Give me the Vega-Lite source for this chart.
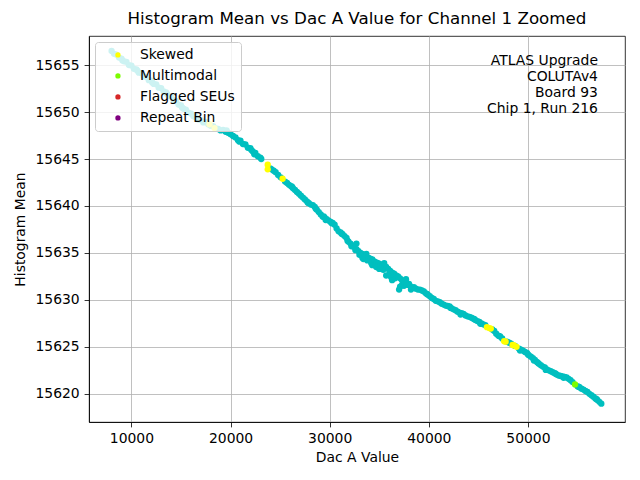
{
  "$schema": "https://vega.github.io/schema/vega-lite/v6.json",
  "width": 536,
  "height": 386,
  "autosize": {"type": "none"},
  "padding": {"left": 89, "top": 36, "right": 15, "bottom": 58},
  "background": "white",
  "title": {
    "text": "Histogram Mean vs Dac A Value for Channel 1 Zoomed",
    "fontSize": 16.7,
    "fontWeight": "normal",
    "color": "black",
    "offset": 8
  },
  "datasets": {
    "normal": [
      {"dac": 8000, "mean": 15656.5}, {"dac": 8250, "mean": 15656.2}, {"dac": 8500, "mean": 15656.1},
      {"dac": 8750, "mean": 15655.8}, {"dac": 9000, "mean": 15655.7}, {"dac": 9100, "mean": 15655.5},
      {"dac": 9250, "mean": 15655.4}, {"dac": 9500, "mean": 15655.35}, {"dac": 9750, "mean": 15655.0},
      {"dac": 10000, "mean": 15654.95}, {"dac": 10250, "mean": 15654.6}, {"dac": 10500, "mean": 15654.55},
      {"dac": 10600, "mean": 15654.4}, {"dac": 10750, "mean": 15654.2}, {"dac": 11000, "mean": 15654.15},
      {"dac": 11250, "mean": 15653.8}, {"dac": 11500, "mean": 15653.75}, {"dac": 11750, "mean": 15653.4},
      {"dac": 12000, "mean": 15653.35}, {"dac": 12100, "mean": 15653.15}, {"dac": 12250, "mean": 15653.0},
      {"dac": 12500, "mean": 15652.95}, {"dac": 12750, "mean": 15652.6}, {"dac": 13000, "mean": 15652.55},
      {"dac": 13250, "mean": 15652.2}, {"dac": 13500, "mean": 15652.1}, {"dac": 13600, "mean": 15651.9},
      {"dac": 13750, "mean": 15651.7}, {"dac": 14000, "mean": 15651.65}, {"dac": 14250, "mean": 15651.3},
      {"dac": 14500, "mean": 15651.2}, {"dac": 14750, "mean": 15650.8}, {"dac": 15000, "mean": 15650.7},
      {"dac": 15100, "mean": 15650.5}, {"dac": 15250, "mean": 15650.35}, {"dac": 15500, "mean": 15650.25},
      {"dac": 15750, "mean": 15649.95}, {"dac": 16000, "mean": 15649.85}, {"dac": 16250, "mean": 15649.55},
      {"dac": 16500, "mean": 15649.45}, {"dac": 16600, "mean": 15649.3}, {"dac": 16750, "mean": 15649.2},
      {"dac": 17000, "mean": 15649.15}, {"dac": 17250, "mean": 15648.9}, {"dac": 17500, "mean": 15648.95},
      {"dac": 17750, "mean": 15648.7}, {"dac": 18000, "mean": 15648.55}, {"dac": 18250, "mean": 15648.5},
      {"dac": 18500, "mean": 15648.25}, {"dac": 18750, "mean": 15648.2}, {"dac": 19000, "mean": 15648.05},
      {"dac": 19250, "mean": 15648.1}, {"dac": 19500, "mean": 15647.9}, {"dac": 19600, "mean": 15648.05},
      {"dac": 19750, "mean": 15647.8}, {"dac": 20000, "mean": 15647.65}, {"dac": 20250, "mean": 15647.45},
      {"dac": 20500, "mean": 15647.3}, {"dac": 20750, "mean": 15647.0}, {"dac": 20900, "mean": 15646.85},
      {"dac": 21000, "mean": 15646.95}, {"dac": 21250, "mean": 15646.6}, {"dac": 21500, "mean": 15646.55},
      {"dac": 21750, "mean": 15646.2}, {"dac": 22000, "mean": 15646.15}, {"dac": 22100, "mean": 15645.95},
      {"dac": 22250, "mean": 15645.8}, {"dac": 22400, "mean": 15645.5}, {"dac": 22500, "mean": 15645.65},
      {"dac": 22750, "mean": 15645.3}, {"dac": 23000, "mean": 15645.15}, {"dac": 23100, "mean": 15645.0},
      {"dac": 24000, "mean": 15644.0}, {"dac": 24150, "mean": 15643.9}, {"dac": 24350, "mean": 15643.75},
      {"dac": 24550, "mean": 15643.6}, {"dac": 24800, "mean": 15643.3}, {"dac": 25050, "mean": 15643.05},
      {"dac": 25500, "mean": 15642.6}, {"dac": 25700, "mean": 15642.45}, {"dac": 25900, "mean": 15642.25},
      {"dac": 26100, "mean": 15642.1}, {"dac": 26200, "mean": 15642.05}, {"dac": 26300, "mean": 15641.9},
      {"dac": 26500, "mean": 15641.7}, {"dac": 26700, "mean": 15641.5}, {"dac": 26900, "mean": 15641.3},
      {"dac": 27100, "mean": 15641.1}, {"dac": 27300, "mean": 15640.9}, {"dac": 27500, "mean": 15640.7},
      {"dac": 27700, "mean": 15640.5}, {"dac": 27800, "mean": 15640.35}, {"dac": 27900, "mean": 15640.3},
      {"dac": 28100, "mean": 15640.15}, {"dac": 28300, "mean": 15640.1}, {"dac": 28500, "mean": 15639.9},
      {"dac": 28600, "mean": 15639.7}, {"dac": 28700, "mean": 15639.6}, {"dac": 28900, "mean": 15639.35},
      {"dac": 29100, "mean": 15639.1}, {"dac": 29300, "mean": 15638.85}, {"dac": 29400, "mean": 15638.9},
      {"dac": 29500, "mean": 15638.75}, {"dac": 29600, "mean": 15638.5}, {"dac": 29700, "mean": 15638.6},
      {"dac": 29900, "mean": 15638.45}, {"dac": 30100, "mean": 15638.3}, {"dac": 30200, "mean": 15638.15},
      {"dac": 30300, "mean": 15638.2}, {"dac": 30500, "mean": 15638.0}, {"dac": 30700, "mean": 15637.6},
      {"dac": 30900, "mean": 15637.3}, {"dac": 31100, "mean": 15637.2}, {"dac": 31200, "mean": 15637.05},
      {"dac": 31300, "mean": 15637.0}, {"dac": 31500, "mean": 15636.8}, {"dac": 31700, "mean": 15636.6},
      {"dac": 31800, "mean": 15636.3}, {"dac": 31900, "mean": 15636.2}, {"dac": 32100, "mean": 15636.0},
      {"dac": 32200, "mean": 15635.7}, {"dac": 32300, "mean": 15635.8}, {"dac": 32500, "mean": 15635.6},
      {"dac": 32600, "mean": 15635.3}, {"dac": 32700, "mean": 15636.0}, {"dac": 32700, "mean": 15635.4},
      {"dac": 32900, "mean": 15635.2}, {"dac": 33000, "mean": 15634.8}, {"dac": 33100, "mean": 15635.0},
      {"dac": 33300, "mean": 15634.5}, {"dac": 33300, "mean": 15634.9}, {"dac": 33400, "mean": 15634.35},
      {"dac": 33500, "mean": 15634.7}, {"dac": 33600, "mean": 15634.6}, {"dac": 33700, "mean": 15634.9},
      {"dac": 33800, "mean": 15634.2}, {"dac": 33900, "mean": 15634.5}, {"dac": 34100, "mean": 15634.4},
      {"dac": 34200, "mean": 15633.9}, {"dac": 34300, "mean": 15634.3}, {"dac": 34300, "mean": 15633.7},
      {"dac": 34500, "mean": 15634.1}, {"dac": 34600, "mean": 15633.7}, {"dac": 34700, "mean": 15634.0},
      {"dac": 34700, "mean": 15633.5}, {"dac": 34900, "mean": 15633.9}, {"dac": 35000, "mean": 15633.3},
      {"dac": 35100, "mean": 15633.8}, {"dac": 35100, "mean": 15633.4}, {"dac": 35300, "mean": 15633.7},
      {"dac": 35400, "mean": 15633.2}, {"dac": 35500, "mean": 15633.6}, {"dac": 35500, "mean": 15633.9},
      {"dac": 35700, "mean": 15633.5}, {"dac": 35700, "mean": 15632.6}, {"dac": 35900, "mean": 15633.3},
      {"dac": 36000, "mean": 15632.7}, {"dac": 36100, "mean": 15633.1}, {"dac": 36200, "mean": 15632.4},
      {"dac": 36300, "mean": 15632.1}, {"dac": 36300, "mean": 15632.9}, {"dac": 36500, "mean": 15632.8},
      {"dac": 36600, "mean": 15632.3}, {"dac": 36700, "mean": 15632.6}, {"dac": 36900, "mean": 15632.5},
      {"dac": 37000, "mean": 15631.1}, {"dac": 37100, "mean": 15632.3}, {"dac": 37100, "mean": 15631.4},
      {"dac": 37300, "mean": 15631.6}, {"dac": 37300, "mean": 15632.1}, {"dac": 37500, "mean": 15632.0},
      {"dac": 37500, "mean": 15631.5}, {"dac": 37700, "mean": 15631.8}, {"dac": 37700, "mean": 15632.2},
      {"dac": 37900, "mean": 15631.6}, {"dac": 38000, "mean": 15631.7}, {"dac": 38100, "mean": 15631.5},
      {"dac": 38200, "mean": 15631.1}, {"dac": 38300, "mean": 15631.3}, {"dac": 38500, "mean": 15631.35},
      {"dac": 38700, "mean": 15631.2}, {"dac": 38900, "mean": 15631.1}, {"dac": 39100, "mean": 15631.1},
      {"dac": 39300, "mean": 15631.0}, {"dac": 39500, "mean": 15630.9}, {"dac": 39700, "mean": 15630.7},
      {"dac": 39800, "mean": 15630.65}, {"dac": 39900, "mean": 15630.55}, {"dac": 40100, "mean": 15630.4},
      {"dac": 40300, "mean": 15630.2}, {"dac": 40500, "mean": 15630.1}, {"dac": 40700, "mean": 15629.9},
      {"dac": 40900, "mean": 15629.85}, {"dac": 41100, "mean": 15629.75}, {"dac": 41300, "mean": 15629.6},
      {"dac": 41500, "mean": 15629.5}, {"dac": 41700, "mean": 15629.4}, {"dac": 41900, "mean": 15629.35},
      {"dac": 42100, "mean": 15629.3}, {"dac": 42200, "mean": 15629.15}, {"dac": 42300, "mean": 15629.1},
      {"dac": 42500, "mean": 15629.0}, {"dac": 42700, "mean": 15628.9}, {"dac": 42900, "mean": 15628.75},
      {"dac": 43100, "mean": 15628.65}, {"dac": 43200, "mean": 15628.45}, {"dac": 43300, "mean": 15628.6},
      {"dac": 43500, "mean": 15628.5}, {"dac": 43700, "mean": 15628.35}, {"dac": 43900, "mean": 15628.25},
      {"dac": 44100, "mean": 15628.2}, {"dac": 44300, "mean": 15628.1}, {"dac": 44500, "mean": 15628.0},
      {"dac": 44600, "mean": 15627.95}, {"dac": 44700, "mean": 15627.85}, {"dac": 44900, "mean": 15627.75},
      {"dac": 45100, "mean": 15627.65}, {"dac": 45200, "mean": 15627.45}, {"dac": 45300, "mean": 15627.5},
      {"dac": 45500, "mean": 15627.4}, {"dac": 45700, "mean": 15627.3}, {"dac": 46400, "mean": 15626.85},
      {"dac": 46600, "mean": 15626.7}, {"dac": 46800, "mean": 15626.4}, {"dac": 47000, "mean": 15626.2},
      {"dac": 47100, "mean": 15626.15}, {"dac": 47200, "mean": 15626.1}, {"dac": 47400, "mean": 15625.9},
      {"dac": 47900, "mean": 15625.55}, {"dac": 48100, "mean": 15625.45}, {"dac": 48300, "mean": 15625.35},
      {"dac": 48700, "mean": 15625.1}, {"dac": 49100, "mean": 15624.8}, {"dac": 49200, "mean": 15624.6},
      {"dac": 49300, "mean": 15624.7}, {"dac": 49500, "mean": 15624.6}, {"dac": 49700, "mean": 15624.45},
      {"dac": 49900, "mean": 15624.35}, {"dac": 50000, "mean": 15624.2}, {"dac": 50100, "mean": 15624.1},
      {"dac": 50300, "mean": 15623.95}, {"dac": 50500, "mean": 15623.8}, {"dac": 50600, "mean": 15623.55},
      {"dac": 50700, "mean": 15623.6}, {"dac": 50900, "mean": 15623.4}, {"dac": 51000, "mean": 15623.3},
      {"dac": 51100, "mean": 15623.2}, {"dac": 51300, "mean": 15623.05}, {"dac": 51500, "mean": 15622.9},
      {"dac": 51700, "mean": 15622.8}, {"dac": 51800, "mean": 15622.55}, {"dac": 51900, "mean": 15622.6},
      {"dac": 52100, "mean": 15622.5}, {"dac": 52300, "mean": 15622.4}, {"dac": 52500, "mean": 15622.3},
      {"dac": 52700, "mean": 15622.2}, {"dac": 52800, "mean": 15622.15}, {"dac": 52900, "mean": 15622.05},
      {"dac": 53100, "mean": 15621.95}, {"dac": 53300, "mean": 15621.9}, {"dac": 53500, "mean": 15621.85},
      {"dac": 53600, "mean": 15621.7}, {"dac": 53700, "mean": 15621.8}, {"dac": 53900, "mean": 15621.75},
      {"dac": 54100, "mean": 15621.6}, {"dac": 54300, "mean": 15621.45}, {"dac": 54500, "mean": 15621.25},
      {"dac": 55000, "mean": 15620.8}, {"dac": 55100, "mean": 15620.75}, {"dac": 55200, "mean": 15620.7},
      {"dac": 55400, "mean": 15620.55}, {"dac": 55600, "mean": 15620.45}, {"dac": 55800, "mean": 15620.3},
      {"dac": 56000, "mean": 15620.2}, {"dac": 56200, "mean": 15620.0}, {"dac": 56400, "mean": 15619.85},
      {"dac": 56600, "mean": 15619.7}, {"dac": 56800, "mean": 15619.5}, {"dac": 56900, "mean": 15619.45},
      {"dac": 57000, "mean": 15619.35}, {"dac": 57200, "mean": 15619.15}, {"dac": 57400, "mean": 15618.95}
    ],
    "flagged": [
      {"dac": 17870, "mean": 15648.7, "cat": "Skewed"},
      {"dac": 18380, "mean": 15648.3, "cat": "Skewed"},
      {"dac": 23750, "mean": 15644.4, "cat": "Skewed"},
      {"dac": 23750, "mean": 15643.9, "cat": "Skewed"},
      {"dac": 25250, "mean": 15642.9, "cat": "Skewed"},
      {"dac": 45860, "mean": 15627.1, "cat": "Skewed"},
      {"dac": 46100, "mean": 15627.0, "cat": "Skewed"},
      {"dac": 46250, "mean": 15626.95, "cat": "Skewed"},
      {"dac": 47600, "mean": 15625.6, "cat": "Skewed"},
      {"dac": 47750, "mean": 15625.55, "cat": "Skewed"},
      {"dac": 48450, "mean": 15625.2, "cat": "Skewed"},
      {"dac": 48600, "mean": 15625.15, "cat": "Skewed"},
      {"dac": 48850, "mean": 15625.0, "cat": "Skewed"},
      {"dac": 54750, "mean": 15621.0, "cat": "Multimodal"}
    ],
    "notes": [
      {"dac": 57060, "mean": 15655.43, "label": "ATLAS Upgrade"},
      {"dac": 57060, "mean": 15653.73, "label": "COLUTAv4"},
      {"dac": 57060, "mean": 15652.03, "label": "Board 93"},
      {"dac": 57060, "mean": 15650.33, "label": "Chip 1, Run 216"}
    ]
  },
  "encoding": {
    "x": {
      "field": "dac",
      "type": "quantitative",
      "title": "Dac A Value",
      "scale": {"domain": [5721, 59790], "nice": false, "zero": false},
      "axis": {"values": [10000, 20000, 30000, 40000, 50000], "format": "d", "titlePadding": 5}
    },
    "y": {
      "field": "mean",
      "type": "quantitative",
      "title": "Histogram Mean",
      "scale": {"domain": [15617.0, 15658.1], "nice": false, "zero": false},
      "axis": {"values": [15620, 15625, 15630, 15635, 15640, 15645, 15650, 15655], "format": "d", "titlePadding": 8}
    }
  },
  "layer": [
    {
      "data": {"name": "normal"},
      "mark": {"type": "point", "filled": true, "size": 40, "opacity": 1, "color": "#00bfbf"}
    },
    {
      "data": {"name": "flagged"},
      "mark": {"type": "point", "filled": true, "size": 40, "opacity": 1},
      "encoding": {
        "color": {
          "field": "cat",
          "type": "nominal",
          "scale": {
            "domain": ["Skewed", "Multimodal", "Flagged SEUs", "Repeat Bin"],
            "range": ["#ffff00", "#7cfc00", "#d62728", "#800080"]
          },
          "legend": {
            "orient": "none",
            "legendX": 6,
            "legendY": 6,
            "title": null,
            "padding": 6,
            "fillColor": "rgba(255,255,255,0.8)",
            "strokeColor": "#cccccc",
            "cornerRadius": 3,
            "symbolType": "circle",
            "symbolSize": 28,
            "symbolStrokeWidth": 0,
            "symbolOffset": 10,
            "labelOffset": 15,
            "labelFontSize": 13.9,
            "labelColor": "black",
            "rowPadding": 6,
            "zindex": 2
          }
        }
      }
    },
    {
      "data": {"name": "notes"},
      "mark": {"type": "text", "align": "right", "baseline": "middle", "fontSize": 13.9, "color": "black"},
      "encoding": {"text": {"field": "label", "type": "nominal"}}
    }
  ],
  "config": {
    "font": "DejaVu Sans",
    "view": {"stroke": "black", "strokeWidth": 0.8},
    "axis": {
      "grid": true,
      "gridColor": "#b0b0b0",
      "gridWidth": 0.8,
      "domainColor": "black",
      "domainWidth": 0.8,
      "tickColor": "black",
      "tickWidth": 0.8,
      "tickSize": 4.9,
      "labelFontSize": 13.9,
      "labelColor": "black",
      "labelPadding": 4.9,
      "titleFontSize": 13.9,
      "titleFontWeight": "normal",
      "titleColor": "black",
      "zindex": 1
    }
  }
}
